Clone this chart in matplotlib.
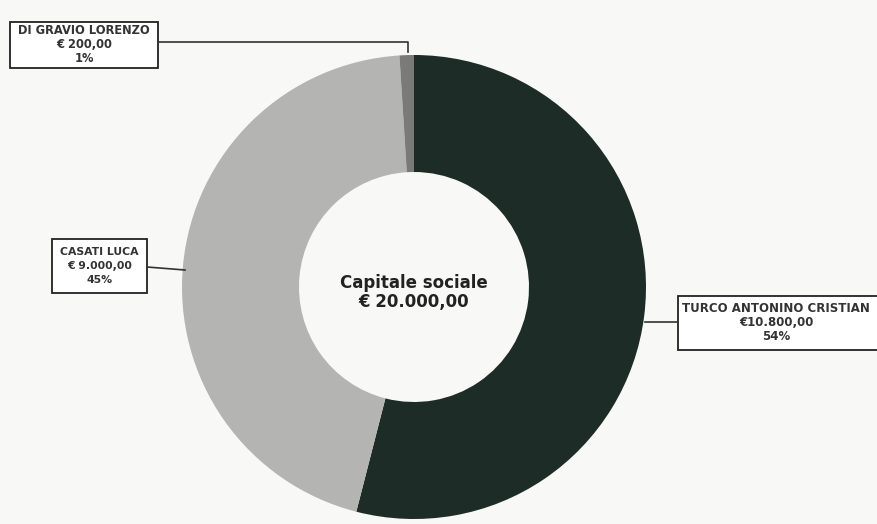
import matplotlib
matplotlib.use("Agg")
import matplotlib.pyplot as plt

# Data
names = ["TURCO ANTONINO CRISTIAN", "CASATI LUCA", "DI GRAVIO LORENZO"]
amounts = [10800.00, 9000.00, 200.00]
amount_labels = ["€10.800,00", "€ 9.000,00", "€ 200,00"]
pct_labels = ["54%", "45%", "1%"]
center_title = "Capitale sociale"
center_value = "€ 20.000,00"
colors = ["#1d2c27", "#b4b4b2", "#7a7a78"]

W, H = 877, 524
fig = plt.figure(figsize=(W / 100, H / 100), dpi=100)
fig.patch.set_facecolor("#f8f8f6")
ax = fig.add_axes([0, 0, 1, 1])
ax.set_facecolor("#f8f8f6")

cx, cy = 414, H - 287
R = 232
wedges, _ = ax.pie(amounts, colors=colors, startangle=90, counterclock=False,
                   center=(cx, cy), radius=R,
                   wedgeprops=dict(width=R - 115, edgecolor="none"))
ax.set_xlim(0, W)
ax.set_ylim(0, H)
ax.set_aspect("auto")
ax.axis("off")

ax.text(cx, H - 283, center_title, ha="center", va="center",
        fontsize=12, fontweight="bold", color="#222222")
ax.text(cx, H - 302, center_value, ha="center", va="center",
        fontsize=12, fontweight="bold", color="#222222")

# label boxes: (x0, y0_top, x1, y1_bottom) in pixel coords (top-origin)
boxes = [(678, 296, 900, 350), (52, 239, 147, 293), (10, 22, 158, 68)]
lines = [
    [(645, 322), (678, 322)],
    [(147, 267), (185, 270)],
    [(158, 42), (408, 42), (408, 52)],
]
sizes = [8.5, 7.8, 8.3]
for i, (x0, y0, x1, y1) in enumerate(boxes):
    rect = plt.Rectangle((x0, H - y1), x1 - x0, y1 - y0, facecolor="white",
                         edgecolor="#222222", lw=1.3)
    ax.add_patch(rect)
    xm = (x0 + x1) / 2 if i else 776
    yt = y0 + (y1 - y0) / 2
    fs = sizes[i]
    if i == 0:
        ax.text(682, H - (yt - 14), names[i], ha="left", va="center",
                fontsize=fs, fontweight="bold", color="#333333")
    else:
        ax.text(xm, H - (yt - 14), names[i], ha="center", va="center",
                fontsize=fs, fontweight="bold", color="#333333")
    ax.text(xm, H - yt, amount_labels[i], ha="center", va="center",
            fontsize=fs, fontweight="bold", color="#333333")
    ax.text(xm, H - (yt + 14), pct_labels[i], ha="center", va="center",
            fontsize=fs, fontweight="bold", color="#333333")
    xs = [p[0] for p in lines[i]]
    ys = [H - p[1] for p in lines[i]]
    ax.plot(xs, ys, color="#333333", lw=1.2)

fig.savefig("out.png", dpi=100, facecolor=fig.get_facecolor())
